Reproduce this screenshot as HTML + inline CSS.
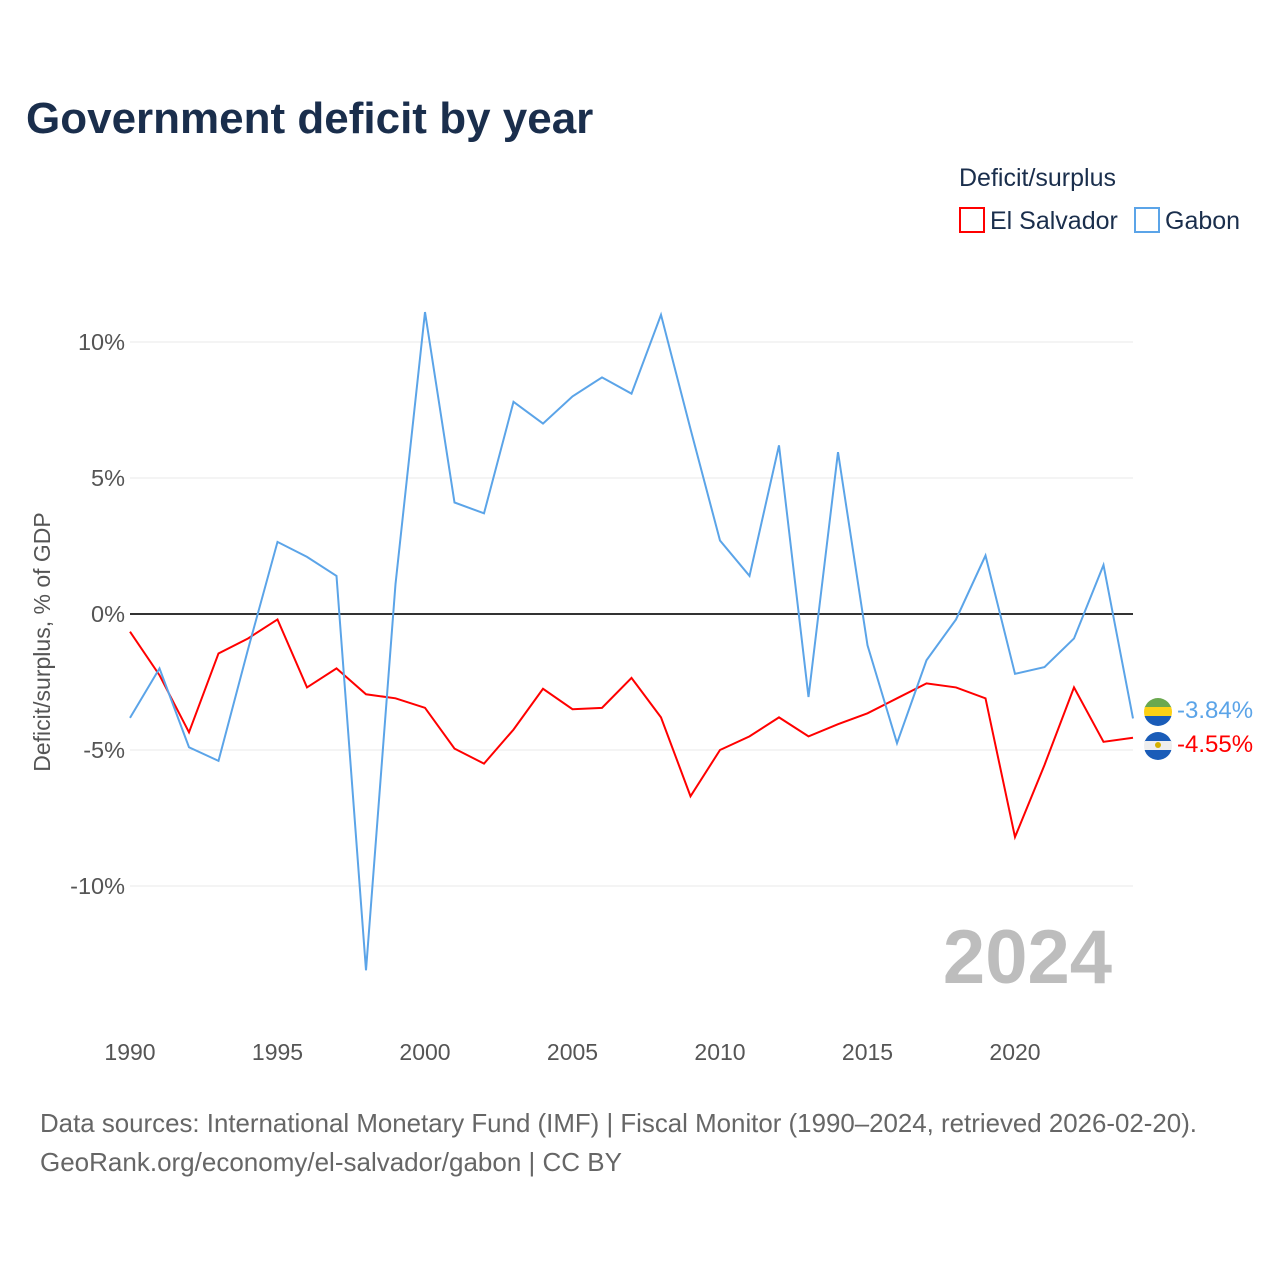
<!DOCTYPE html>
<html><head><meta charset="utf-8"><style>
body{margin:0;background:#fff;font-family:"Liberation Sans",sans-serif;}
svg text{font-family:"Liberation Sans",sans-serif;}
</style></head><body>
<svg width="1280" height="1280" xmlns="http://www.w3.org/2000/svg">
<defs>
<clipPath id="cg"><circle cx="1158" cy="712" r="14"/></clipPath>
<clipPath id="cs"><circle cx="1158" cy="746" r="14"/></clipPath>
</defs>
<text x="26" y="133" font-size="44" font-weight="bold" fill="#1a2e4c">Government deficit by year</text>
<text x="959" y="186" font-size="25" fill="#1a2e4c">Deficit/surplus</text>
<g><rect x="960" y="208" width="24" height="24" fill="#fff" stroke="#f00" stroke-width="2"/><text x="990" y="229" font-size="25" fill="#1a2e4c">El Salvador</text></g>
<g><rect x="1135" y="208" width="24" height="24" fill="#fff" stroke="#5ba4e8" stroke-width="2"/><text x="1165" y="229" font-size="25" fill="#1a2e4c">Gabon</text></g>
<g id="grid"></g>
<g id="xt"></g>
<text transform="translate(50,642) rotate(-90)" text-anchor="middle" font-size="23" fill="#555">Deficit/surplus, % of GDP</text>
<text x="1112" y="983" text-anchor="end" font-size="76" font-weight="bold" fill="#bdbdbd">2024</text>
<g id="lines"></g>
<g clip-path="url(#cg)"><rect x="1144" y="698" width="28" height="10" fill="#6aa84f"/><rect x="1144" y="707" width="28" height="10" fill="#fcd116"/><rect x="1144" y="716" width="28" height="10" fill="#1a5cb8"/></g>
<g clip-path="url(#cs)"><rect x="1144" y="732" width="28" height="10" fill="#1a5cb8"/><rect x="1144" y="741" width="28" height="10" fill="#eee"/><rect x="1144" y="750" width="28" height="10" fill="#1a5cb8"/><circle cx="1158" cy="745" r="3" fill="#d4b000"/></g>
<text x="1177" y="718" font-size="24" fill="#5ba4e8">-3.84%</text>
<text x="1177" y="752" font-size="24" fill="#f00">-4.55%</text>
<text x="40" y="1132" font-size="26" fill="#666" textLength="1157" lengthAdjust="spacingAndGlyphs">Data sources: International Monetary Fund (IMF) | Fiscal Monitor (1990–2024, retrieved 2026-02-20).</text>
<text x="40" y="1171" font-size="26" fill="#666">GeoRank.org/economy/el-salvador/gabon | CC BY</text>
</svg>
<script>
const years=[];for(let y=1990;y<=2024;y++)years.push(y);
const gabon=[-3.82,-2.0,-4.9,-5.4,-1.3,2.65,2.1,1.4,-13.1,1.1,11.1,4.1,3.7,7.8,7.0,8.0,8.7,8.1,11.0,6.8,2.7,1.4,6.2,-3.05,5.95,-1.15,-4.75,-1.7,-0.2,2.15,-2.2,-1.95,-0.9,1.8,-3.84];
const salvador=[-0.65,-2.25,-4.35,-1.45,-0.9,-0.2,-2.7,-2.0,-2.95,-3.1,-3.45,-4.95,-5.5,-4.25,-2.75,-3.5,-3.45,-2.35,-3.8,-6.7,-5.0,-4.5,-3.8,-4.5,-4.05,-3.65,-3.1,-2.55,-2.7,-3.1,-8.2,-5.55,-2.7,-4.7,-4.55];
const yTicks=[10,5,0,-5,-10];
const xTicks=[1990,1995,2000,2005,2010,2015,2020];
const X=y=>130+(y-1990)*29.5, Y=v=>614-v*27.2;
const NS='http://www.w3.org/2000/svg';
function mk(t,a,p){const e=document.createElementNS(NS,t);for(const k in a)e.setAttribute(k,a[k]);p.appendChild(e);return e;}
const g=document.getElementById('grid');
yTicks.forEach(v=>{
 const l=mk('line',{x1:130,x2:1133,y1:Y(v),y2:Y(v),stroke:v===0?'#333':'#e8e8e8','stroke-width':v===0?2:1},g);
 
 
 const t=mk('text',{x:125,y:Y(v)+8,'text-anchor':'end','font-size':23.5,fill:'#555'},g);
 t.textContent=v+'%';
 
 
});
const xt=document.getElementById('xt');
xTicks.forEach(v=>{
 const t=mk('text',{x:X(v),y:1060,'text-anchor':'middle','font-size':23,fill:'#555'},xt);
 t.textContent=v;
 
 
});
const L=document.getElementById('lines');
[[salvador,'#f00','el-salvador-line'],[gabon,'#5ba4e8','gabon-line']].forEach(([d,c,n])=>{
 const p=mk('polyline',{points:d.map((v,i)=>X(years[i])+','+Y(v)).join(' '),fill:'none',stroke:c,'stroke-width':2},L);
 
 
});
</script>
</body></html>
